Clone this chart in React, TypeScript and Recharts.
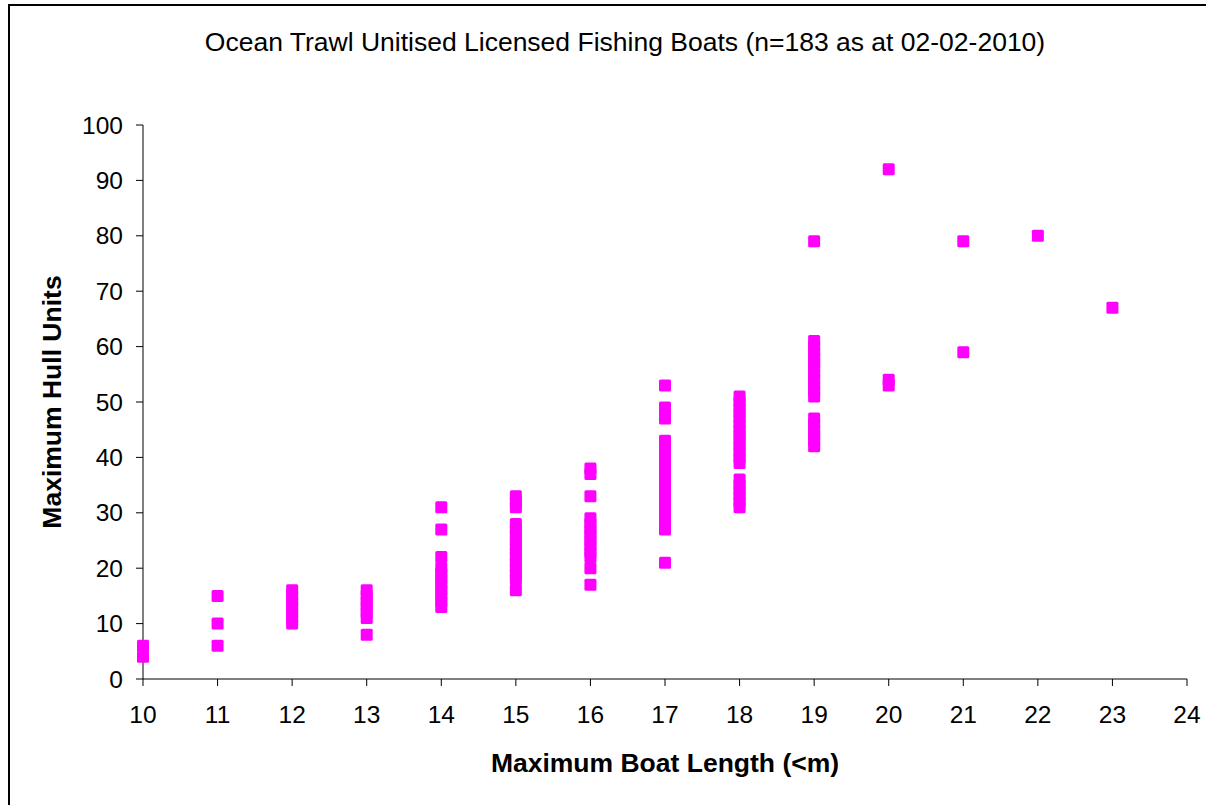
import { ScatterChart, Scatter, XAxis, YAxis } from "recharts";

// Maximum hull units, one list per boat length (m)
const len10 = [4, 6];
const len11 = [6, 10, 15];
const len12 = [10, 11, 12, 13, 14, 15, 16];
const len13 = [8, 11, 12, 13, 14, 15, 16];
const len14 = [13, 14, 15, 16, 17, 18, 19, 20, 22, 27, 31];
const len15 = [16, 18, 19, 20, 21, 22, 23, 24, 25, 26, 27, 28, 31, 32, 33];
const len16 = [17, 20, 22, 23, 24, 25, 26, 27, 28, 29, 33, 37, 38];
const len17 = [21, 27, 28, 29, 30, 31, 32, 33, 34, 35, 36, 37, 38, 39, 40, 41, 42, 43, 47, 48, 49, 53];
const len18 = [31, 32, 33, 34, 35, 36, 39, 40, 41, 42, 43, 44, 45, 46, 47, 48, 49, 50, 51];
const len19 = [42, 43, 44, 45, 46, 47, 51, 52, 53, 54, 55, 56, 57, 58, 59, 60, 61, 79];
const len20 = [53, 54, 92];
const len21 = [59, 79];
const len22 = [80];
const len23 = [67];

const lengths = [10, 11, 12, 13, 14, 15, 16, 17, 18, 19, 20, 21, 22, 23];
const unitsByLength = [len10, len11, len12, len13, len14, len15, len16, len17, len18, len19, len20, len21, len22, len23];

const xTicks = [10, 11, 12, 13, 14, 15, 16, 17, 18, 19, 20, 21, 22, 23, 24];
const yTicks = [0, 10, 20, 30, 40, 50, 60, 70, 80, 90, 100];

const points = lengths.flatMap((len, i) => unitsByLength[i].map((u) => ({ len, units: u })));

const FONT = "'Liberation Sans', Arial, sans-serif";

const Square = (props: any) => {
  const { cx, cy } = props;
  if (cx == null || cy == null) return null;
  return <rect x={cx - 6} y={cy - 6} width={12} height={12} rx={1.5} fill="#FF00FF" />;
};

const centered = (x: number, y: number, rotate = 0) => ({
  position: "absolute" as const,
  left: x,
  top: y,
  transform: `translate(-50%, -50%)${rotate ? ` rotate(${rotate}deg)` : ""}`,
  whiteSpace: "nowrap" as const,
  lineHeight: "30px",
  color: "#000",
});

export default function App() {
  return (
    <div style={{ position: "absolute", left: 0, top: 0, width: 1206, height: 805, background: "#fff", overflow: "hidden", fontFamily: FONT }}>
      <div style={{ position: "absolute", left: 8, top: 4, width: 1198, height: 2, background: "#000" }} />
      <div style={{ position: "absolute", left: 8, top: 4, width: 2, height: 801, background: "#000" }} />
      <div style={{ ...centered(625, 42), fontSize: 26.5 }}>
        Ocean Trawl Unitised Licensed Fishing Boats (n=183 as at 02-02-2010)
      </div>
      <div style={{ ...centered(52, 402, -90), fontSize: 26.5, fontWeight: "bold" }}>Maximum Hull Units</div>
      <div style={{ ...centered(665, 763), fontSize: 26.5, fontWeight: "bold" }}>Maximum Boat Length (&lt;m)</div>
      <ScatterChart width={1206} height={805} margin={{ top: 125, right: 19, bottom: 76, left: 83 }}>
        <XAxis
          type="number"
          dataKey="len"
          domain={[10, 24]}
          ticks={xTicks}
          interval={0}
          height={50}
          stroke="#000"
          tickSize={7}
          tickMargin={20}
          tick={{ fill: "#000", fontSize: 24.5, fontFamily: FONT }}
        />
        <YAxis
          type="number"
          dataKey="units"
          domain={[0, 100]}
          ticks={yTicks}
          interval={0}
          width={60}
          stroke="#000"
          tickSize={7}
          tickMargin={13}
          tick={{ fill: "#000", fontSize: 24.5, fontFamily: FONT }}
        />
        <Scatter data={points} shape={<Square />} isAnimationActive={false} />
      </ScatterChart>
    </div>
  );
}
